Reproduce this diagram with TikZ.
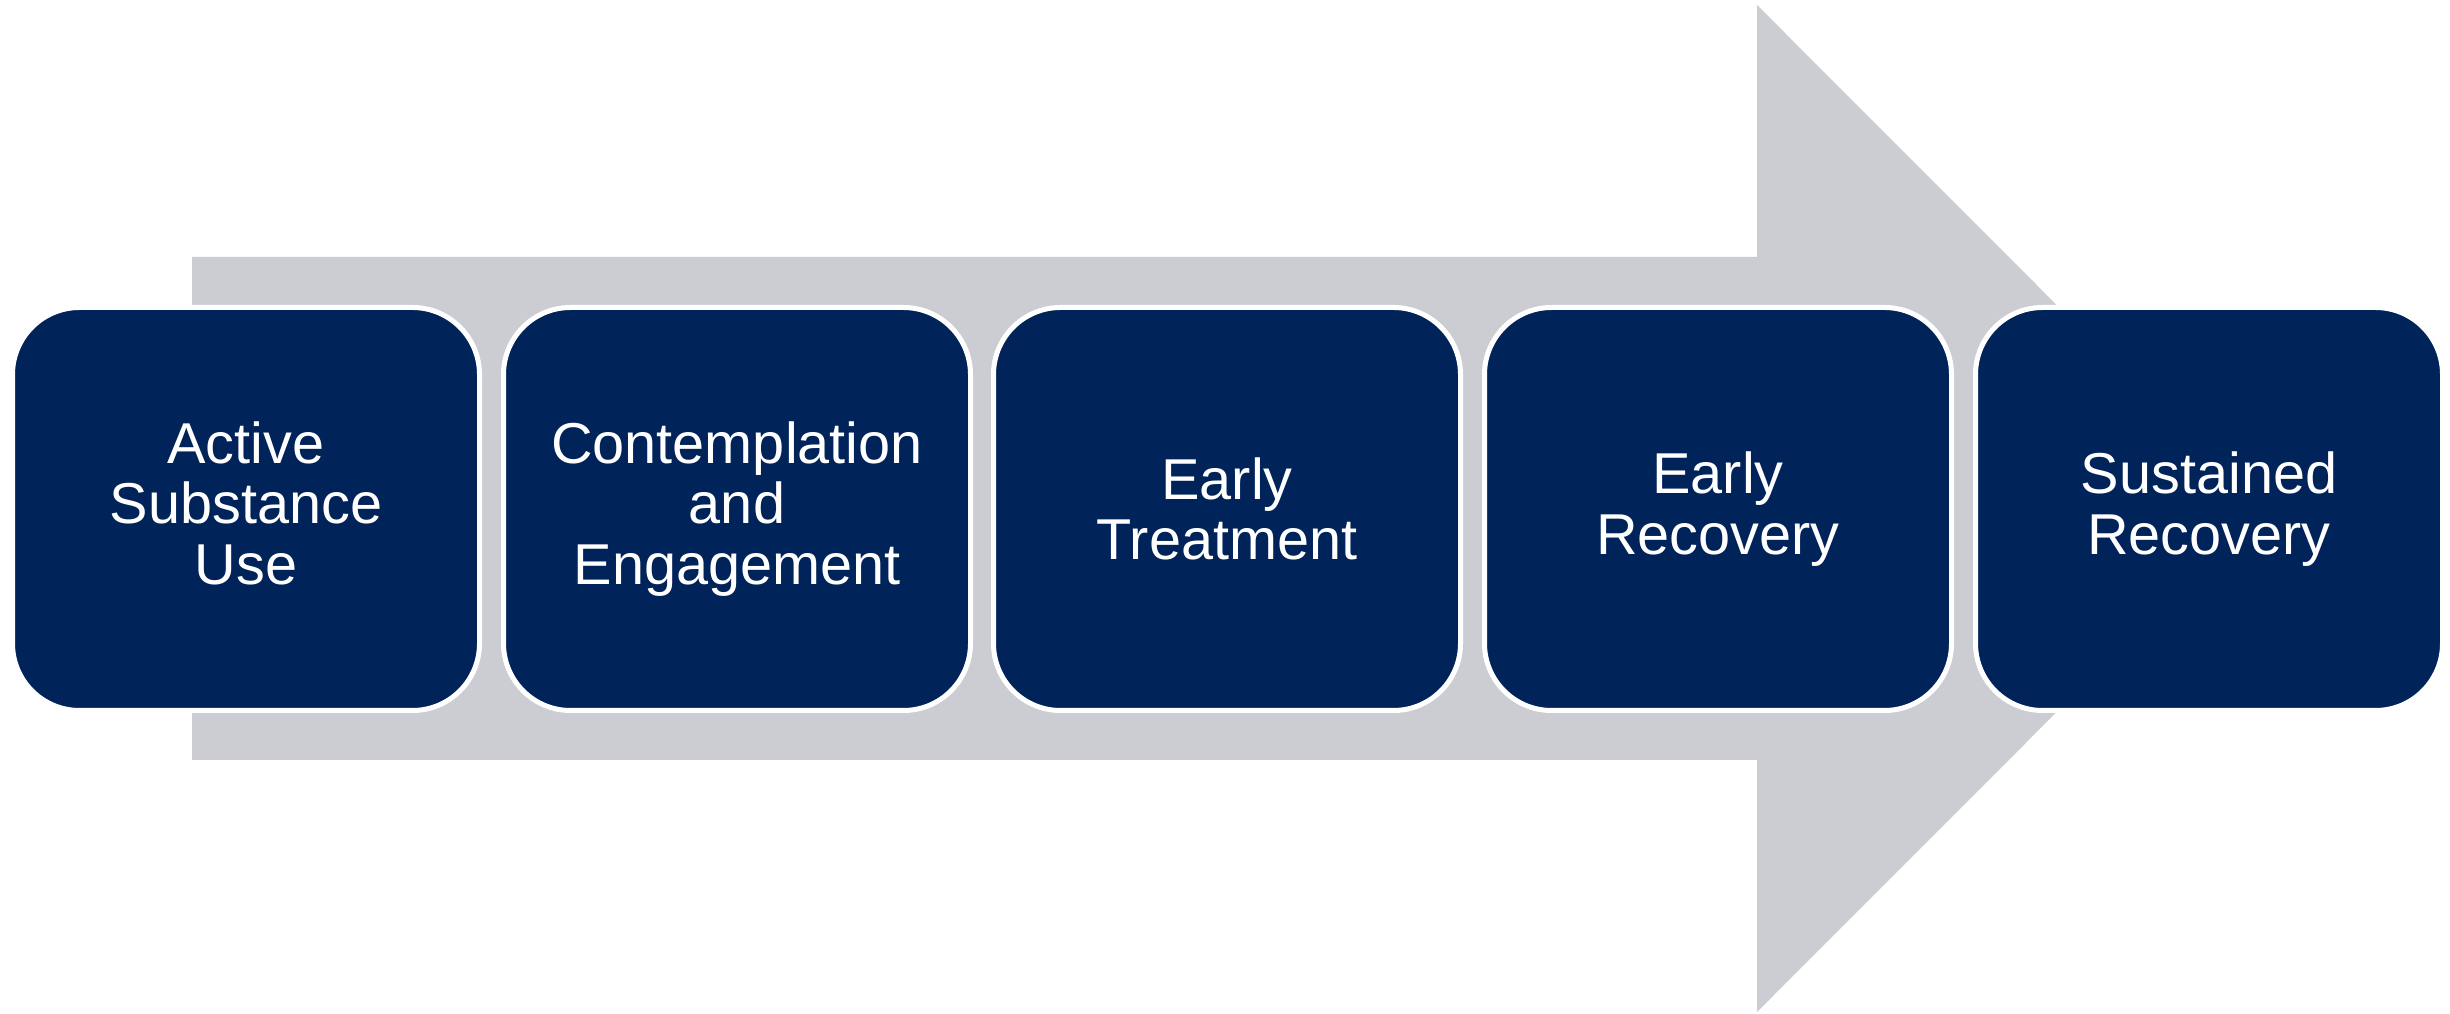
\documentclass[tikz,border=0pt]{standalone}
\usepackage{fontspec}
\setmainfont{Liberation Sans}
\definecolor{navy}{RGB}{0,35,90}
\definecolor{arrowgray}{RGB}{203,205,210}
\tikzset{
  stage/.style={draw=white, line width=0.05cm, fill=navy, rounded corners=0.67cm,
    minimum width=4.67cm, minimum height=4.03cm, inner sep=0pt,
    text=white, align=center, font=\fontsize{16.4}{17.2}\selectfont},
  bigarrow/.style={fill=arrowgray, draw=none}
}
\begin{document}
\begin{tikzpicture}
\useasboundingbox (0,0) rectangle (24.5,-10.14);
\fill[white] (0,0) rectangle (24.5,-10.14);
\path[bigarrow] (1.92,-2.57) -- (17.57,-2.57) -- (17.57,-0.05) -- (22.60,-5.085)
  -- (17.57,-10.12) -- (17.57,-7.60) -- (1.92,-7.60) -- cycle;
\node[stage, text depth=0.12cm] (s1) at (2.46,-5.09) {Active\\Substance\\Use};
\node[stage] (s2) at (7.37,-5.09) {Contemplation\\and\\Engagement};
\node[stage] (s3) at (12.27,-5.09) {Early\\Treatment};
\node[stage] (s4) at (17.18,-5.09) {Early\\Recovery};
\node[stage] (s5) at (22.09,-5.09) {Sustained\\Recovery};
\end{tikzpicture}
\end{document}
